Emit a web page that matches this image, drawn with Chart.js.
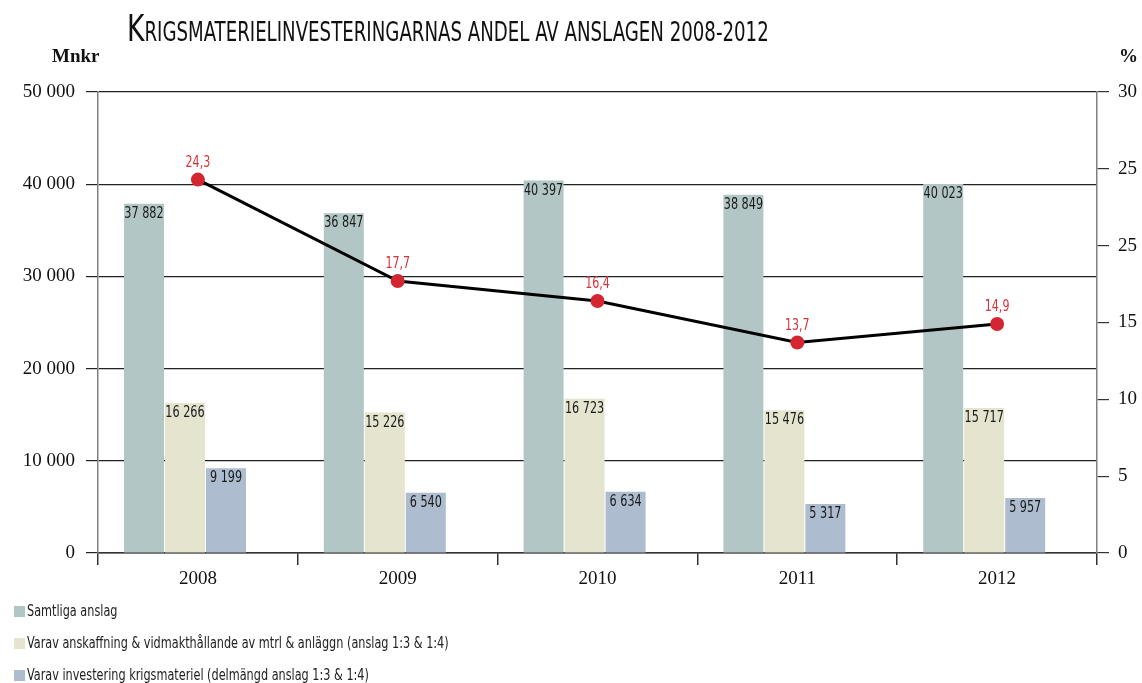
<!DOCTYPE html>
<html><head><meta charset="utf-8">
<script src="https://cdn.jsdelivr.net/npm/chart.js@4.4.1/dist/chart.umd.min.js"></script>
<style>
html,body{margin:0;padding:0;background:#fff;}
#wrap{position:relative;width:1142px;height:683px;overflow:hidden;}
canvas{position:absolute;left:0;top:0;}
#title{position:absolute;left:127px;top:6px;font-family:'Liberation Sans Narrow','DejaVu Sans Condensed',sans-serif;color:#111;white-space:nowrap;transform:scaleX(0.777);transform-origin:0 0;}
#title .big{font-size:38px;}
#title .sc{font-size:26px;text-transform:uppercase;}
.unit{position:absolute;top:45px;font-family:'Liberation Serif',serif;font-weight:bold;font-size:19px;color:#111;}
#legend{position:absolute;left:14px;top:595px;font-family:'Liberation Sans Narrow','DejaVu Sans Condensed',sans-serif;font-size:15px;color:#222;}
.li{height:32px;display:flex;align-items:center;white-space:nowrap;}
.sw{width:11px;height:11px;margin-right:2px;display:inline-block;flex:none;}
.lt{display:inline-block;transform:scaleX(0.835);transform-origin:0 50%;}
</style>
</head><body>
<div id="wrap">
<canvas id="c" width="1142" height="683"></canvas>
<div id="title"><span class="big">K</span><span class="sc">rigsmaterielinvesteringarnas andel av anslagen 2008-2012</span></div>
<div class="unit" style="left:52px;">Mnkr</div>
<div class="unit" style="left:1119px;">%</div>
<div id="legend"></div>
</div>
<script>
const categories = ['2008', '2009', '2010', '2011', '2012'];
const samtligaAnslag = [37882, 36847, 40397, 38849, 40023];
const anskaffning = [16266, 15226, 16723, 15476, 15717];
const investering = [9199, 6540, 6634, 5317, 5957];
const andelProcent = [24.3, 17.7, 16.4, 13.7, 14.9];
const leftTickLabels = ['0', '10 000', '20 000', '30 000', '40 000', '50 000'];
const rightTickLabels = ['0', '5', '10', '15', '25', '25', '30'];
const seriesNames = [
  'Samtliga anslag',
  'Varav anskaffning & vidmakthållande av mtrl & anläggn (anslag 1:3 & 1:4)',
  'Varav investering krigsmateriel (delmängd anslag 1:3 & 1:4)'
];
const seriesColors = ['#b2c6c5', '#e5e4cf', '#adbdcf'];

const narrow = "'Liberation Sans Narrow','DejaVu Sans Condensed',sans-serif";
const fmtThousands = v => String(v).replace(/\B(?=(\d{3})+(?!\d))/g, ' ');
const fmtDec = v => v.toFixed(1).replace('.', ',');

// legend (HTML, real text)
const lg = document.getElementById('legend');
seriesNames.forEach((n, i) => {
  const row = document.createElement('div'); row.className = 'li';
  const sw = document.createElement('span'); sw.className = 'sw'; sw.style.background = seriesColors[i];
  const t = document.createElement('span'); t.className = 'lt'; t.textContent = n;
  row.appendChild(sw); row.appendChild(t); lg.appendChild(row);
});

const labelPlugin = {
  id: 'vlabels',
  afterDatasetsDraw(chart) {
    const ctx = chart.ctx;
    chart.data.datasets.forEach((ds, di) => {
      if (!ds.labelKind) return;
      const meta = chart.getDatasetMeta(di);
      meta.data.forEach((el, i) => {
        const v = ds.data[i];
        if (v == null) return;
        ctx.save();
        ctx.textAlign = 'center';
        if (ds.labelKind === 'bar') {
          ctx.font = '16px ' + narrow;
          ctx.fillStyle = '#1a1a1a';
          ctx.textBaseline = 'top';
          ctx.translate(el.x, el.y + 2);
          ctx.scale(0.78, 1);
          ctx.fillText(fmtThousands(v), 0, 0);
        } else {
          ctx.font = '15px ' + narrow;
          ctx.fillStyle = '#d8323a';
          ctx.textBaseline = 'bottom';
          ctx.translate(el.x, el.y - 9);
          ctx.scale(0.82, 1);
          ctx.fillText(fmtDec(v), 0, 0);
        }
        ctx.restore();
      });
    });
  }
};

const serif = "'Liberation Serif','Times New Roman',serif";
const barCommon = { yAxisID: 'y', order: 2, borderWidth: 0, barPercentage: 2, maxBarThickness: 40, labelKind: 'bar' };

new Chart(document.getElementById('c'), {
  data: {
    labels: categories,
    datasets: [
      { type: 'line', label: 'Andel', data: andelProcent, yAxisID: 'y1', order: 0,
        borderColor: '#000', borderWidth: 3, pointRadius: 7, pointBackgroundColor: '#d32630',
        pointBorderWidth: 0, pointBorderColor: '#d32630', tension: 0, labelKind: 'pct' },
      Object.assign({ type: 'bar', label: seriesNames[0], data: samtligaAnslag, backgroundColor: seriesColors[0], categoryPercentage: 0.7194 }, barCommon),
      Object.assign({ type: 'bar', label: seriesNames[1], data: anskaffning, backgroundColor: seriesColors[1], categoryPercentage: 0.5165 }, barCommon),
      Object.assign({ type: 'bar', label: seriesNames[2], data: investering, backgroundColor: seriesColors[2], categoryPercentage: 1.125 }, barCommon),
      { type: 'bar', label: '', data: categories.map(() => null), yAxisID: 'y', order: 2 }
    ]
  },
  options: {
    responsive: false,
    devicePixelRatio: 1,
    animation: false,
    layout: { padding: { top: 92, bottom: 90, left: 0, right: 0 } },
    plugins: { legend: { display: false }, tooltip: { enabled: false }, title: { display: false } },
    scales: {
      x: {
        type: 'category',
        offset: true,
        grid: { offset: true, drawOnChartArea: false, tickLength: 12, color: '#333', lineWidth: 1.5 },
        border: { color: '#333', width: 1.5 },
        ticks: { font: { family: serif, size: 19 }, color: '#111', padding: 3 },
        afterFit: s => { s.height = 40; }
      },
      y: {
        position: 'left', min: 0, max: 50000,
        ticks: { stepSize: 10000, font: { family: serif, size: 19 }, color: '#111', padding: 11,
          callback: (v, i) => leftTickLabels[i] },
        grid: { color: '#222', lineWidth: 1.2, tickLength: 12 },
        border: { color: '#808080', width: 1.5 },
        afterFit: s => { s.width = 98; }
      },
      y1: {
        position: 'right', min: 0, max: 30,
        ticks: { stepSize: 5, font: { family: serif, size: 19 }, color: '#111', padding: 9,
          callback: (v, i) => rightTickLabels[i] },
        grid: { drawOnChartArea: false, color: '#333', lineWidth: 1.2, tickLength: 12 },
        border: { color: '#808080', width: 1.5 },
        afterFit: s => { s.width = 45; }
      }
    }
  },
  plugins: [labelPlugin]
});
</script>
</body></html>
